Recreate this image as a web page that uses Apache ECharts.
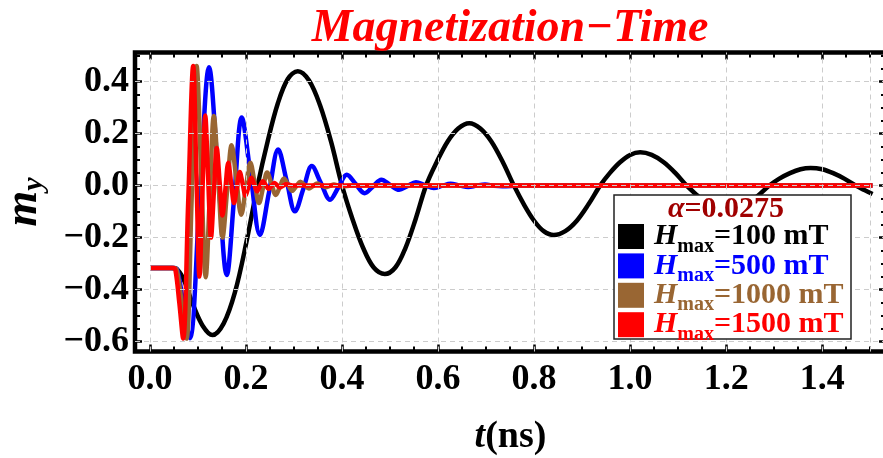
<!DOCTYPE html>
<html>
<head>
<meta charset="utf-8">
<script src="https://cdn.jsdelivr.net/npm/echarts@6/dist/echarts.min.js"></script>
<style>
  html, body { margin: 0; padding: 0; background: #ffffff; }
  #chart { width: 883px; height: 458px; }
</style>
</head>
<body>
<div id="chart"></div>
<script>
// Time samples (ns) and m_y for each pulse amplitude
const tBlack = [0, 0.045, 0.055, 0.07, 0.09, 0.11, 0.13, 0.1535, 0.177, 0.2005, 0.224, 0.245, 0.266, 0.287, 0.308, 0.331, 0.354, 0.377, 0.4, 0.422, 0.444, 0.466, 0.489, 0.511, 0.532, 0.553, 0.575, 0.597, 0.62, 0.642, 0.665, 0.688, 0.711, 0.735, 0.758, 0.779, 0.8, 0.82, 0.841, 0.865, 0.889, 0.913, 0.9375, 0.958, 0.979, 1.0, 1.021, 1.045, 1.07, 1.094, 1.118, 1.14, 1.16, 1.18, 1.2, 1.222, 1.245, 1.267, 1.29, 1.31, 1.333, 1.355, 1.376, 1.4, 1.423, 1.447, 1.47, 1.488, 1.505];
const myBlack = [-0.317, -0.317, -0.32, -0.36, -0.46, -0.54, -0.575, -0.53, -0.41, -0.22, 0, 0.17, 0.315, 0.41, 0.44, 0.405, 0.31, 0.17, 0, -0.13, -0.24, -0.315, -0.34, -0.315, -0.24, -0.13, 0, 0.09, 0.17, 0.22, 0.24, 0.22, 0.17, 0.09, 0, -0.073, -0.135, -0.175, -0.19, -0.175, -0.135, -0.073, 0, 0.049, 0.09, 0.118, 0.128, 0.118, 0.09, 0.049, 0, -0.038, -0.07, -0.092, -0.1, -0.092, -0.07, -0.038, 0, 0.026, 0.048, 0.063, 0.068, 0.063, 0.048, 0.026, 0, -0.017, -0.032];

const tBlue = [0, 0.05, 0.057, 0.069, 0.083, 0.103, 0.123, 0.1415, 0.16, 0.1755, 0.191, 0.21, 0.229, 0.248, 0.267, 0.2845, 0.302, 0.3195, 0.337, 0.356, 0.375, 0.3925, 0.41, 0.4285, 0.447, 0.4645, 0.482, 0.5, 0.519, 0.536, 0.554, 0.572, 0.591, 0.608, 0.626, 0.644, 0.663, 0.68, 0.698, 0.716, 0.734, 0.77, 1.505];
const myBlue = [-0.317, -0.317, -0.325, -0.45, -0.587, -0.066, 0.455, 0.055, -0.344, -0.041, 0.262, 0.036, -0.19, -0.025, 0.139, 0.02, -0.099, -0.012, 0.075, 0.01, -0.054, -0.006, 0.042, 0.006, -0.029, -0.003, 0.023, 0.003, -0.016, -0.002, 0.013, 0.002, -0.009, -0.001, 0.007, 0.001, -0.005, 0, 0.004, 0, -0.002, 0, 0];

const tBrown = [0, 0.05, 0.056, 0.066, 0.076, 0.0865, 0.097, 0.1065, 0.116, 0.1245, 0.133, 0.142, 0.151, 0.1605, 0.17, 0.18, 0.19, 0.1995, 0.209, 0.218, 0.227, 0.2355, 0.244, 0.253, 0.262, 0.2705, 0.279, 0.2875, 0.296, 0.3045, 0.313, 0.322, 0.331, 0.3395, 0.348, 0.357, 0.366, 0.3745, 0.383, 0.392, 0.401, 0.42, 1.505];
const myBrown = [-0.317, -0.317, -0.325, -0.45, -0.588, -0.064, 0.46, 0.054, -0.352, -0.042, 0.268, 0.034, -0.2, -0.022, 0.155, 0.021, -0.112, -0.012, 0.088, 0.01, -0.067, -0.008, 0.05, 0.007, -0.036, -0.0045, 0.027, 0.0035, -0.02, -0.0025, 0.015, 0.002, -0.011, -0.0015, 0.008, 0.001, -0.006, -0.001, 0.004, 0.0005, -0.003, 0, 0];

const tRed = [0, 0.048, 0.053, 0.061, 0.069, 0.0795, 0.09, 0.0965, 0.103, 0.109, 0.115, 0.121, 0.127, 0.133, 0.139, 0.145, 0.151, 0.157, 0.163, 0.169, 0.175, 0.181, 0.187, 0.193, 0.199, 0.205, 0.211, 0.217, 0.223, 0.229, 0.235, 0.241, 0.247, 0.253, 0.259, 0.265, 0.271, 0.277, 0.283, 0.3, 1.505];
const myRed = [-0.317, -0.317, -0.325, -0.45, -0.588, -0.064, 0.46, 0.055, -0.35, -0.04, 0.27, 0.035, -0.2, -0.0275, 0.145, 0.015, -0.115, -0.0135, 0.088, 0.0105, -0.067, -0.0075, 0.052, 0.0065, -0.039, -0.0045, 0.03, 0.004, -0.022, -0.0025, 0.017, 0.002, -0.013, -0.0015, 0.01, 0.0015, -0.007, -0.001, 0.005, 0, 0];

const fieldLabels = ['100 mT', '500 mT', '1000 mT', '1500 mT'];
const lineColors = ['#000000', '#0000ff', '#996633', '#ff0000'];
const dampingText = '=0.0275';
const titleText = 'Magnetization\u2212Time';

// Axis ticks and extents
const xTicks = [0, 0.2, 0.4, 0.6, 0.8, 1.0, 1.2, 1.4];
const yTicks = [-0.6, -0.4, -0.2, 0, 0.2, 0.4];
const xRange = [-0.03125, 1.533];
const yRange = [-0.638, 0.512];
const xGridLines = [0, 0.2, 0.4, 0.6, 0.8, 1.0, 1.2, 1.4, 1.5];
const yGridLines = [-0.6, -0.4, -0.2, 0, 0.2, 0.4];

const serif = '"Liberation Serif", "Times New Roman", serif';

function minorTicks(lo, hi, majors) {
  const out = [];
  for (let k = Math.ceil(lo / 0.05 - 1e-9); k * 0.05 <= hi + 1e-9; k++) {
    const v = +(k * 0.05).toFixed(2);
    if (!majors.some(m => Math.abs(m - v) < 1e-9)) out.push(v);
  }
  return out;
}
const xMinor = minorTicks(0, xRange[1], xTicks);
const yMinor = minorTicks(yRange[0], yRange[1], yTicks);

function pairs(ts, vs) { return ts.map((t, i) => [t, vs[i]]); }
const curves = [pairs(tBlack, myBlack), pairs(tBlue, myBlue), pairs(tBrown, myBrown), pairs(tRed, myRed)];
const seriesNames = fieldLabels.map(l => 'Hmax=' + l);

const fmtNum = v => (v < 0 ? '\u2212' : '') + Math.abs(v).toFixed(1);

const gridRect = { left: 135, top: 52.5, right: -3, bottom: 106.5, outerBoundsMode: 'none', containLabel: false };

function tickAxis(kind, gridIndex, position, values, len, width) {
  return {
    type: 'value', gridIndex, position,
    min: kind === 'x' ? xRange[0] : yRange[0],
    max: kind === 'x' ? xRange[1] : yRange[1],
    axisLine: { show: false, onZero: false },
    axisTick: { show: true, inside: true, length: len, customValues: values,
                lineStyle: { color: '#000', width } },
    axisLabel: { show: false },
    splitLine: { show: false }
  };
}

const legendRich = {};
lineColors.forEach((c, i) => {
  legendRich['h' + i] = { color: c, fontFamily: serif, fontSize: 30, fontWeight: 'bold', fontStyle: 'italic', lineHeight: 30, padding: [0, 0, 0, 5], verticalAlign: 'middle' };
  legendRich['s' + i] = { color: c, fontFamily: serif, fontSize: 20, fontWeight: 'bold', lineHeight: 20, padding: [20, 0, 0, 0], verticalAlign: 'middle' };
  legendRich['e' + i] = { color: c, fontFamily: serif, fontSize: 30, fontWeight: 'bold', lineHeight: 30, verticalAlign: 'middle' };
});

const gridLineStyle = { color: '#cccccc', width: 1, type: [5, 4] };

const chart = echarts.init(document.getElementById('chart'), null, { renderer: 'canvas' });
chart.setOption({
  animation: false,
  backgroundColor: '#ffffff',
  title: {
    text: titleText, left: 510, top: 6, textAlign: 'center', padding: 0,
    textStyle: { color: '#ff0000', fontFamily: serif, fontSize: 46, fontWeight: 'bold', fontStyle: 'italic' }
  },
  grid: [
    Object.assign({ show: true, borderColor: '#000', borderWidth: 4.5, backgroundColor: 'transparent' }, gridRect),
    Object.assign({ show: false }, gridRect)
  ],
  xAxis: [
    {
      type: 'value', gridIndex: 0, position: 'bottom', min: xRange[0], max: xRange[1],
      axisLine: { show: false, onZero: false },
      axisTick: { show: true, inside: true, length: 7, customValues: xTicks, lineStyle: { color: '#000', width: 2.5 } },
      axisLabel: { customValues: xTicks, formatter: fmtNum, margin: 10, color: '#000',
                   fontFamily: serif, fontSize: 36, fontWeight: 'bold' },
      splitLine: { show: false },
      name: '{t|t}{n|(ns)}', nameLocation: 'middle', nameGap: 67,
      nameTextStyle: { rich: {
        t: { fontFamily: serif, fontSize: 38, fontWeight: 'bold', fontStyle: 'italic', color: '#000' },
        n: { fontFamily: serif, fontSize: 38, fontWeight: 'bold', color: '#000' }
      } }
    },
    tickAxis('x', 0, 'top', xTicks, 7, 2.5),
    tickAxis('x', 1, 'bottom', xMinor, 5, 2),
    tickAxis('x', 1, 'top', xMinor, 5, 2)
  ],
  yAxis: [
    {
      type: 'value', gridIndex: 0, position: 'left', min: yRange[0], max: yRange[1],
      axisLine: { show: false, onZero: false },
      axisTick: { show: true, inside: true, length: 7, customValues: yTicks, lineStyle: { color: '#000', width: 2.5 } },
      axisLabel: { customValues: yTicks, formatter: fmtNum, margin: 6, color: '#000',
                   fontFamily: serif, fontSize: 36, fontWeight: 'bold' },
      splitLine: { show: false },
      name: '{m|m}{y|y}', nameLocation: 'middle', nameRotate: 90, nameGap: 88,
      nameTextStyle: { rich: {
        m: { fontFamily: serif, fontSize: 46, fontWeight: 'bold', fontStyle: 'italic', color: '#000', lineHeight: 46, verticalAlign: 'middle' },
        y: { fontFamily: serif, fontSize: 30, fontWeight: 'bold', fontStyle: 'italic', color: '#000', lineHeight: 30, padding: [20, 0, 0, 0], verticalAlign: 'middle' }
      } }
    },
    tickAxis('y', 0, 'right', yTicks, 7, 2.5),
    tickAxis('y', 1, 'left', yMinor, 5, 2),
    tickAxis('y', 1, 'right', yMinor, 5, 2)
  ],
  legend: {
    orient: 'vertical', left: 618, top: 216.5, padding: 0, zlevel: 1, z: 4,
    itemWidth: 26, itemHeight: 25, itemGap: -10.6, icon: 'rect',
    selectedMode: false, backgroundColor: 'transparent',
    itemStyle: { borderWidth: 0 },
    data: seriesNames,
    formatter: name => {
      const i = seriesNames.indexOf(name);
      return '{h' + i + '|H}{s' + i + '|max}{e' + i + '|=' + fieldLabels[i] + '}';
    },
    textStyle: { rich: legendRich }
  },
  graphic: [
    { type: 'rect', zlevel: 1, z: 1, shape: { x: 614, y: 195, width: 237, height: 144 },
      style: { fill: '#ffffff', stroke: '#222222', lineWidth: 1.5 } },
    { type: 'text', zlevel: 1, z: 6, x: 726, y: 209,
      style: {
        text: '{a|\u03b1}{b|' + dampingText + '}',
        align: 'center', verticalAlign: 'middle',
        rich: {
          a: { fill: '#a00000', fontFamily: serif, fontSize: 30, fontStyle: 'italic', fontWeight: 'bold' },
          b: { fill: '#a00000', fontFamily: serif, fontSize: 30, fontWeight: 'bold' }
        }
      } }
  ],
  series: [
    {
      // dashed grid lines at the tick positions
      name: 'gridlines', type: 'line', xAxisIndex: 0, yAxisIndex: 0, z: 1, data: [],
      markLine: {
        silent: true, symbol: ['none', 'none'], label: { show: false },
        lineStyle: gridLineStyle, animation: false,
        data: xGridLines.map(v => ({ xAxis: v })).concat(yGridLines.map(v => ({ yAxis: v })))
      }
    }
  ].concat(curves.map((data, i) => ({
    name: seriesNames[i], type: 'line', xAxisIndex: 0, yAxisIndex: 0, z: 2,
    data, showSymbol: false, smooth: 0.35, color: lineColors[i],
    lineStyle: { color: lineColors[i], width: 4.5 }, clip: true
  })))
});
</script>
</body>
</html>
